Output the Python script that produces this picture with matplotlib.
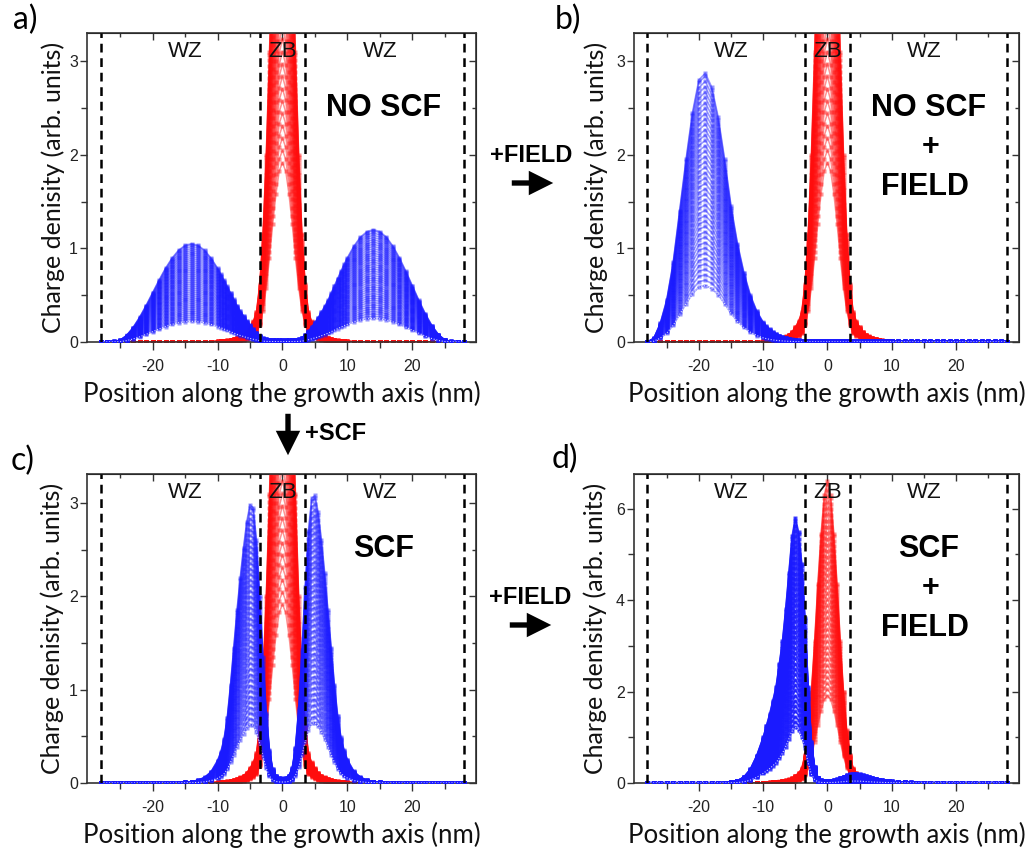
import numpy as np
import matplotlib
matplotlib.use("Agg")
import matplotlib.pyplot as plt
from matplotlib.patches import FancyArrowPatch

plt.rcParams['font.family'] = ['Liberation Sans', 'DejaVu Sans']
plt.rcParams['axes.unicode_minus'] = False

# ---------------- data ----------------
# positions along the growth axis (nm)
X_NM = [-28, -27, -26, -25, -24, -23, -22, -21, -20, -19, -18, -17, -16, -15, -14, -13, -12, -11,
        -10, -9.5, -9, -8.5, -8, -7.5, -7, -6.5, -6, -5.5, -5, -4.5, -4, -3.5, -3, -2.5, -2, -1.5, -1, -0.5,
        0, 0.5, 1, 1.5, 2, 2.5, 3, 3.5, 4, 4.5, 5, 5.5, 6, 6.5, 7, 7.5, 8, 8.5, 9, 9.5, 10,
        11, 12, 13, 14, 15, 16, 17, 18, 19, 20, 21, 22, 23, 24, 25, 26, 27, 28]

# red (ZB-confined) density, largest curve of the family
RED_ZB = [0, 0, 0, 0, 0, 0, 0, 0, 0, 0, 0, 0.001, 0.001, 0.001, 0.001, 0.002, 0.002, 0.003,
          0.006, 0.009, 0.012, 0.017, 0.024, 0.033, 0.045, 0.06, 0.08, 0.11, 0.16, 0.22, 0.32, 0.62,
          1.15, 2.0, 3.1, 4.35, 5.45, 6.3,
          6.6, 6.3, 5.45, 4.35, 3.1, 2.0, 1.15, 0.62, 0.32, 0.22, 0.16, 0.11, 0.08, 0.06, 0.045,
          0.033, 0.024, 0.017, 0.012, 0.009, 0.006,
          0.003, 0.002, 0.002, 0.001, 0.001, 0.001, 0.001, 0, 0, 0, 0, 0, 0, 0, 0, 0, 0, 0]

# blue densities, largest curve of each family
BLUE_A = [0.0, 0.003, 0.006, 0.018, 0.07, 0.154, 0.263, 0.389, 0.525, 0.661, 0.788, 0.896, 0.98, 1.032,
          1.05, 1.032, 0.98, 0.896,
          0.788, 0.726, 0.661, 0.593, 0.525, 0.456, 0.389, 0.33, 0.28, 0.225, 0.18, 0.14, 0.10, 0.065,
          0.04, 0.03, 0.025, 0.022, 0.02, 0.02, 0.02, 0.02, 0.02, 0.022, 0.025, 0.03, 0.045, 0.075,
          0.115, 0.16, 0.21, 0.26, 0.32, 0.38, 0.445, 0.521, 0.60, 0.678, 0.755, 0.83, 0.90,
          1.024, 1.12, 1.179, 1.2, 1.179, 1.12, 1.024, 0.90, 0.755, 0.60, 0.445, 0.30, 0.176, 0.08,
          0.021, 0.006, 0.003, 0.0]

BLUE_B = [0.0, 0.04, 0.2, 0.45, 0.85, 1.40, 1.95, 2.45, 2.80, 2.87, 2.72, 2.40, 1.95, 1.45, 1.05,
          0.74, 0.50, 0.33,
          0.21, 0.17, 0.135, 0.105, 0.085, 0.068, 0.054, 0.043, 0.034, 0.027, 0.022, 0.018, 0.015,
          0.013, 0.012, 0.011, 0.01, 0.01, 0.01, 0.01, 0.01, 0.01, 0.01, 0.01, 0.01, 0.01, 0.01,
          0.01, 0.01, 0.01, 0.01, 0.01, 0.01, 0.01, 0.01, 0.01, 0.01, 0.01, 0.01, 0.01, 0.01,
          0.008, 0.008, 0.008, 0.008, 0.008, 0.008, 0.008, 0.008, 0.008, 0.008, 0.008, 0.008,
          0.008, 0.008, 0.008, 0.008, 0.008, 0.005]

BLUE_C = [0.005, 0.005, 0.005, 0.005, 0.005, 0.005, 0.005, 0.005, 0.005, 0.005, 0.005, 0.005,
          0.005, 0.008, 0.015, 0.03, 0.06, 0.12,
          0.24, 0.33, 0.47, 0.7, 1.05, 1.45, 1.85, 2.2, 2.52, 2.8, 2.98, 2.95, 2.6, 2.0, 1.35, 0.75,
          0.35, 0.15, 0.08, 0.055, 0.05, 0.055, 0.08, 0.16, 0.38, 0.8, 1.42, 2.1, 2.7, 3.05, 3.08,
          2.9, 2.6, 2.25, 1.85, 1.45, 1.05, 0.72, 0.49, 0.35, 0.25,
          0.125, 0.062, 0.031, 0.015, 0.008, 0.005, 0.005, 0.005, 0.005, 0.005, 0.005, 0.005,
          0.005, 0.005, 0.005, 0.005, 0.005, 0.005]

BLUE_D = [0.005, 0.005, 0.005, 0.005, 0.005, 0.005, 0.005, 0.005, 0.005, 0.005, 0.005, 0.005,
          0.01, 0.02, 0.05, 0.13, 0.3, 0.6,
          1.0, 1.25, 1.5, 1.8, 2.1, 2.6, 3.1, 3.8, 4.6, 5.4, 5.8, 5.5, 4.8, 3.6, 2.1, 0.9, 0.35,
          0.12, 0.06, 0.05, 0.05, 0.05, 0.06, 0.08, 0.11, 0.14, 0.17, 0.19, 0.2, 0.2, 0.19, 0.17,
          0.15, 0.13, 0.11, 0.09, 0.075, 0.06, 0.05, 0.04, 0.035,
          0.025, 0.018, 0.012, 0.009, 0.006, 0.006, 0.006, 0.006, 0.006, 0.006, 0.006, 0.006,
          0.006, 0.006, 0.006, 0.006, 0.006, 0.006]

# relative amplitude of each curve in the families
BLUE_FRACTIONS = [0.21, 0.23, 0.25, 0.27, 0.29, 0.31, 0.33, 0.35, 0.37, 0.39, 0.41, 0.43, 0.45,
                  0.47, 0.49, 0.51, 0.53, 0.55, 0.57, 0.59, 0.61, 0.63, 0.65, 0.67, 0.69, 0.71,
                  0.73, 0.75, 0.77, 0.79, 0.81, 0.83, 0.85, 0.87, 0.89, 0.91, 0.93, 0.95, 0.97,
                  0.99, 1.00]
RED_FRACTIONS = [0.29, 0.31, 0.33, 0.35, 0.37, 0.39, 0.41, 0.43, 0.45, 0.47, 0.49, 0.51, 0.53,
                 0.55, 0.57, 0.59, 0.61, 0.63, 0.65, 0.67, 0.69, 0.71, 0.73, 0.75, 0.77, 0.79,
                 0.81, 0.83, 0.85, 0.87, 0.89, 0.91, 0.93, 0.95, 0.97, 0.99, 1.00]

INTERFACES_NM = [-28, -3.5, 3.5, 28]
REGION_LABELS = ["WZ", "ZB", "WZ"]
REGION_X = [-15, 0, 15]
X_TICKS = [-20, -10, 0, 10, 20]
X_MINOR = [-25, -15, -5, 5, 15, 25]

PANEL_LETTERS = ["a)", "b)", "c)", "d)"]
PANEL_TEXT = [["NO SCF"], ["NO SCF", "+", "FIELD"], ["SCF"], ["SCF", "+", "FIELD"]]
PANEL_BLUE = [BLUE_A, BLUE_B, BLUE_C, BLUE_D]
Y_MAX = [3.3, 3.3, 3.31, 6.76]
Y_TICKS = [[0, 1, 2, 3], [0, 1, 2, 3], [0, 1, 2, 3], [0, 2, 4, 6]]
Y_MINOR = [[0.5, 1.5, 2.5], [0.5, 1.5, 2.5], [0.5, 1.5, 2.5], [1, 3, 5]]

for arr in (RED_ZB, BLUE_A, BLUE_B, BLUE_C, BLUE_D):
    assert len(arr) == len(X_NM), len(arr)

# ---------------- figure ----------------
W, H = 1033, 850
fig = plt.figure(figsize=(W / 100, H / 100), dpi=100)

def px_rect(l, r, t, b):
    return [l / W, 1 - b / H, (r - l) / W, (b - t) / H]

RECTS = [px_rect(87, 476, 33, 342), px_rect(634, 1019, 33, 342),
         px_rect(87, 476, 474, 783), px_rect(634, 1019, 474, 783)]
LETTER_POS = [(25, 20), (568, 20), (23, 461), (565, 459)]
YLAB_X = [-0.088, -0.099, -0.090, -0.101]

x = np.asarray(X_NM, dtype=float)
AX_COL = '#333333'

for i in range(4):
    ax = fig.add_axes(RECTS[i])
    ax.set_xlim(-30.1, 29.8)
    ax.set_ylim(0, Y_MAX[i])

    red = np.asarray(RED_ZB)
    blue = np.asarray(PANEL_BLUE[i])
    balpha = 0.8 if i == 3 else 0.45
    for f in RED_FRACTIONS:
        ax.plot(x, f * red, color=(1.0, 0.05, 0.05), lw=1.1, marker='s', ms=3.4,
                mec='none', alpha=0.45, zorder=2)
    for f in BLUE_FRACTIONS:
        ax.plot(x, f * blue, color=(0.1, 0.1, 1.0), lw=1.2, marker='s', ms=3.4,
                mec='none', alpha=balpha, zorder=3)
    ax.plot(x, BLUE_FRACTIONS[0] * blue, color='white', lw=0.8, ls=(0, (1, 1.5)),
            alpha=0.8, zorder=4)

    for xv in INTERFACES_NM:
        ax.axvline(xv, color='black', lw=1.8, ls=(0, (3.5, 2.3)), zorder=5)
    for lab, xv in zip(REGION_LABELS, REGION_X):
        ax.text(xv, 0.94, lab, transform=ax.get_xaxis_transform(), ha='center', va='center',
                fontsize=16, color='#111111', zorder=6)

    lines = PANEL_TEXT[i]
    ys = [0.758, 0.630, 0.503]
    xs = [15.7, 16.0, 15.1] if len(lines) == 3 else [15.6]
    for k, txt in enumerate(lines):
        ax.text(xs[k], ys[k], txt, transform=ax.get_xaxis_transform(), ha='center',
                va='center', fontsize=22, fontweight='bold', color='black', zorder=6)

    ax.set_xticks(X_TICKS)
    ax.set_xticks(X_MINOR, minor=True)
    ax.set_yticks(Y_TICKS[i])
    ax.set_yticks(Y_MINOR[i], minor=True)
    ax.tick_params(which='both', direction='out', labelsize=11.5, width=1.0, color=AX_COL,
                   labelcolor='#222222')
    ax.tick_params(axis='x', which='major', length=6, pad=6)
    ax.tick_params(axis='y', which='major', length=5, pad=1.5)
    ax.tick_params(which='minor', length=4)
    for sp in ax.spines.values():
        sp.set_linewidth(1.2)
        sp.set_color(AX_COL)

    sx = ax.secondary_xaxis('top')
    sx.set_xticks(X_TICKS)
    sx.set_xticks(X_MINOR, minor=True)
    sx.tick_params(which='both', direction='in', labeltop=False, width=1.0, color=AX_COL)
    sx.tick_params(which='major', length=5)
    sx.tick_params(which='minor', length=3)
    sy = ax.secondary_yaxis('right')
    sy.set_yticks(Y_TICKS[i])
    sy.set_yticks(Y_MINOR[i], minor=True)
    sy.tick_params(which='both', direction='in', labelright=False, width=1.0, color=AX_COL)
    sy.tick_params(which='major', length=5)
    sy.tick_params(which='minor', length=3)

    ax.set_xlabel("Position along the growth axis (nm)", fontsize=18.5, family='Lato',
                  color='#111111')
    ax.xaxis.set_label_coords(0.5, -0.168)
    ax.xaxis.label.set_va('center')
    ax.set_ylabel("Charge denisity (arb. units)", fontsize=18, family='Lato',
                  color='#111111')
    ax.yaxis.set_label_coords(YLAB_X[i], 0.5)
    ax.yaxis.label.set_va('center')

    lx, ly = LETTER_POS[i]
    fig.text(lx / W, 1 - ly / H, PANEL_LETTERS[i], fontsize=23, family='Lato',
             ha='center', va='center')

# arrows between panels
def arrow(p0, p1):
    a = FancyArrowPatch((p0[0] / W, 1 - p0[1] / H), (p1[0] / W, 1 - p1[1] / H),
                        transform=fig.transFigure,
                        arrowstyle='simple,head_length=1.6,head_width=1.6,tail_width=0.35',
                        mutation_scale=11, color='black', lw=0)
    fig.add_artist(a)

arrow((509, 183), (556, 183))
fig.text(531 / W, 1 - 155 / H, "+FIELD", fontsize=17, fontweight='bold', ha='center', va='center')
arrow((507, 625), (554, 625))
fig.text(530 / W, 1 - 598 / H, "+FIELD", fontsize=17, fontweight='bold', ha='center', va='center')
arrow((288, 411), (288, 458))
fig.text(336 / W, 1 - 433 / H, "+SCF", fontsize=17, fontweight='bold', ha='center', va='center')

fig.savefig("out.png", dpi=100)
